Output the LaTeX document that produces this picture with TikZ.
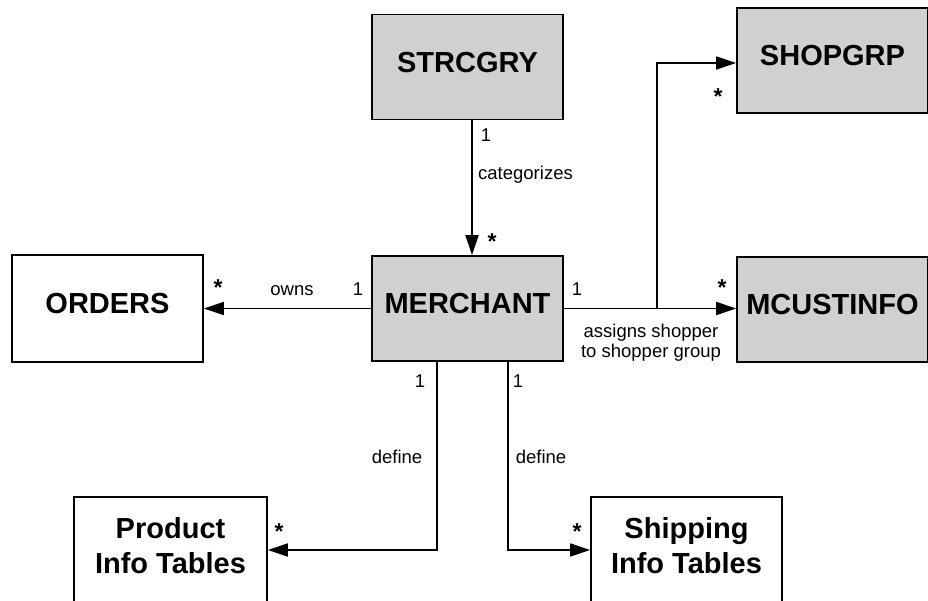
\documentclass[tikz,border=0pt]{standalone}
\usepackage{fontspec}
\setmainfont{Liberation Sans}
\usetikzlibrary{arrows.meta}
\definecolor{boxgray}{RGB}{208,208,208}
\begin{document}
\begin{tikzpicture}[x=1pt,y=-1pt,
  entity/.style={draw, line width=1.6pt, inner sep=0pt,
    minimum width=191pt, minimum height=105pt,
    font=\fontsize{29}{35}\selectfont\bfseries, align=center, text depth=10pt},
  shaded/.style={entity, fill=boxgray},
  plain/.style={entity, fill=white},
  assoc/.style={line width=1.5pt},
  arr/.style={assoc, -{Triangle[length=20pt,width=13pt]}},
  lbl/.style={font=\fontsize{18.5}{19.5}\selectfont, inner sep=0pt, anchor=base},
  mult/.style={font=\fontsize{23}{23}\selectfont\bfseries, inner sep=0pt, anchor=base},
]
\clip (0,0) rectangle (928,601);

% entities
\node[shaded] (strc)   at (467.5,67)    {STRCGRY};
\node[shaded] (shop)   at (832.5,60.5)  {SHOPGRP};
\node[plain]  (orders) at (107.5,308.5) [minimum height=107pt] {ORDERS};
\node[shaded] (merch)  at (467.5,308.5) {MERCHANT};
\node[shaded] (mcust)  at (832.5,309.5) {MCUSTINFO};
\node[plain]  (prod)   at (170.5,550) [minimum width=193pt, minimum height=106pt] {Product\\Info Tables};
\node[plain]  (ship)   at (686.5,550) [minimum height=106pt] {Shipping\\Info Tables};

% helper coordinates for the connector routes
\coordinate (cx)  at (472,0);
\coordinate (brx) at (657,0);
\coordinate (shy) at (0,63);
\coordinate (px)  at (437,0);
\coordinate (sx)  at (508,0);
\coordinate (br)  at (merch.east -| brx);

% associations
\draw[arr] (strc.south -| cx) -- (merch.north -| cx);
\draw[arr] (merch.west) -- (orders.east);
\draw[arr] (merch.east) -- (merch.east -| mcust.west);
\draw[arr] (br) |- (shop.west |- shy);
\draw[arr] (merch.south -| px) |- (prod.east);
\draw[arr] (merch.south -| sx) |- (ship.west);

% role names and multiplicities
\node[lbl] (m1) at (486,142) {1};
\node[lbl, anchor=base west] (l1) at (478,180) {categorizes};
\node[mult] (s1) at (492,250) {*};

\node[mult] (s2) at (218,295) {*};
\node[lbl] (l2) at (292,295) {owns};
\node[lbl] (m2) at (358,295) {1};

\node[lbl] (m3) at (577,296) {1};
\node[mult] (s3) at (722,296) {*};
\node[mult] (s4) at (718,105) {*};
\node[lbl, anchor=north, align=center] (l3) at (651,324) {assigns shopper\\to shopper group};

\node[lbl] (m4) at (420,387) {1};
\node[lbl] (m5) at (518,387) {1};
\node[lbl] (l4) at (397,463) {define};
\node[lbl] (l5) at (541,463) {define};
\node[mult] (s5) at (279,539) {*};
\node[mult] (s6) at (577,539) {*};
\end{tikzpicture}
\end{document}
